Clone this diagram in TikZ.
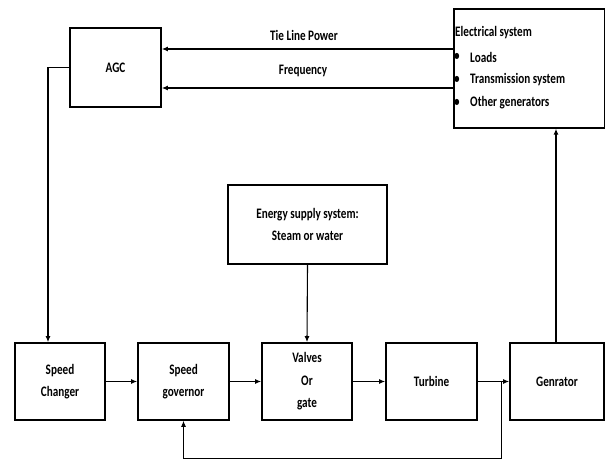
\documentclass[tikz,border=0pt]{standalone}
\usepackage{fontspec}
\setmainfont{Carlito}[FakeStretch=0.77]
\usetikzlibrary{arrows.meta}
\begin{document}
\begin{tikzpicture}[x=1pt,y=-1pt,
  box/.style={draw, line width=1.7pt, rectangle, inner sep=0pt, align=center,
    font=\fontsize{14.5}{22.5}\selectfont\bfseries},
  arr/.style={line width=1.1pt, -{Latex[length=6pt,width=5pt]}},
  lbl/.style={font=\fontsize{14.5}{16}\selectfont\bfseries, inner sep=0pt},
  eltxt/.style={font=\fontsize{14.5}{16}\selectfont\bfseries, inner sep=0pt, anchor=west}]
\useasboundingbox (0,0) rectangle (605,460);
% boxes
\node[box, minimum width=91, minimum height=79] (agc) at (115.5,67.5) {AGC};
\node[box, minimum width=151, minimum height=119, anchor=north west] (el) at (453,8) {};
\node[eltxt] (e0) at (455,33) {Electrical system};
\node[eltxt] (b1) at (454,57) {•};
\node[eltxt] (e1) at (470,57) {Loads};
\node[eltxt] (b2) at (454,80) {•};
\node[eltxt] (e2) at (470,80) {Transmission system};
\node[eltxt] (b3) at (454,103) {•};
\node[eltxt] (e3) at (470,103) {Other generators};
\node[box, minimum width=159, minimum height=79] (en) at (307.5,224.5) {Energy supply system:\\Steam or water};
\node[box, minimum width=90, minimum height=77] (sc) at (60,381.5) {Speed\\Changer};
\node[box, minimum width=91, minimum height=77] (sg) at (183.5,381.5) {Speed\\governor};
\node[box, minimum width=90, minimum height=77] (va) at (307,381.5) {Valves\\Or\\gate};
\node[box, minimum width=91, minimum height=77] (tu) at (431.5,381.5) {Turbine};
\node[box, minimum width=94, minimum height=77] (ge) at (557,381.5) {Genrator};
% connectors
\draw[arr] (el.west |- 0,49) -- (agc.east |- 0,49);
\draw[arr] (el.west |- 0,88) -- (agc.east |- 0,88);
\node[lbl] (tl) at (304,35) {Tie Line Power};
\node[lbl] (fq) at (303,71) {Frequency};
\draw[arr] (agc.west) -| ([xshift=-12pt]sc.north);
\draw[arr] (en.south) -- (va.north);
\draw[arr] (sc.east) -- (sg.west);
\draw[arr] (sg.east) -- (va.west);
\draw[arr] (va.east) -- (tu.west);
\draw[arr] (tu.east) -- (ge.west);
\coordinate (fb) at (501,381.5);
\draw[arr, line width=0.8pt] (fb) -- (fb |- 0,458) -| (sg.south);
\draw[arr] ([xshift=-1pt]ge.north) -- ([xshift=-1pt]ge.north |- el.south);
\end{tikzpicture}
\end{document}
